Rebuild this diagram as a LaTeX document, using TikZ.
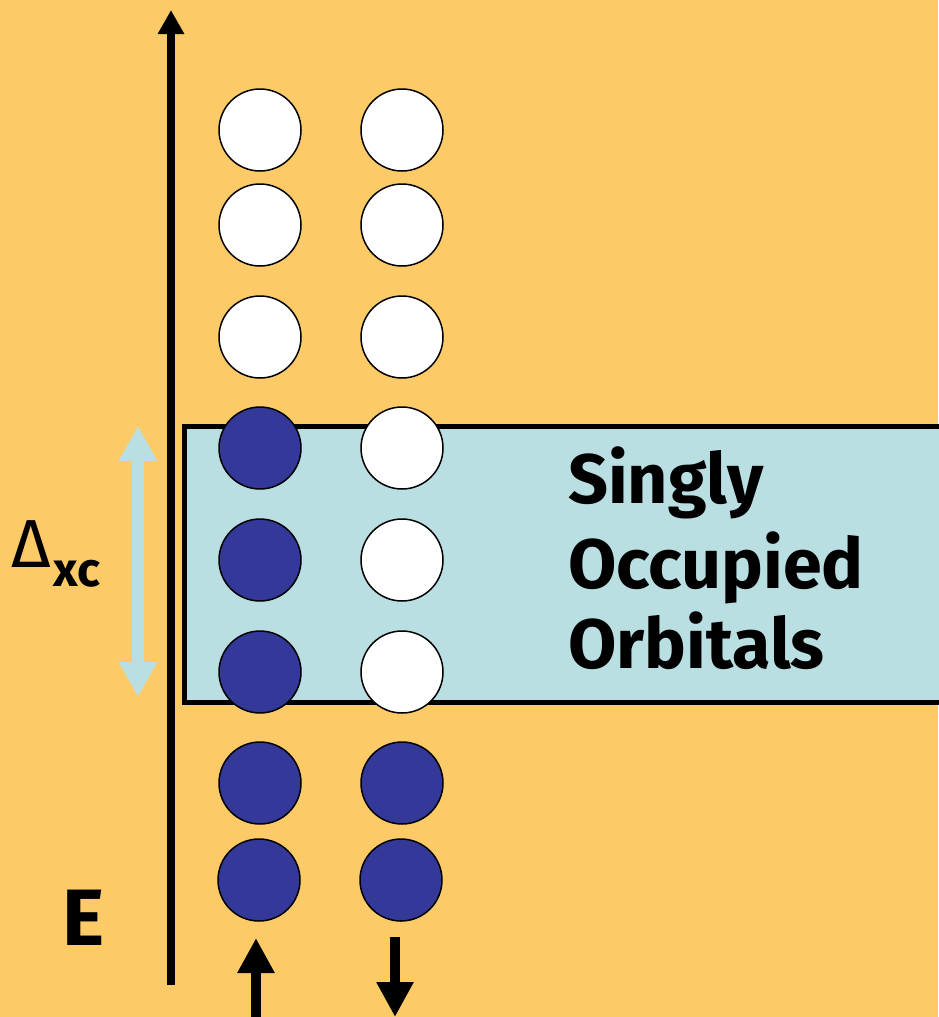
\documentclass[tikz,border=0pt]{standalone}
\usepackage{fontspec}
\setmainfont{Fira Sans}
\usetikzlibrary{arrows.meta}
\definecolor{bgorange}{RGB}{253,202,104}
\definecolor{bandblue}{RGB}{186,223,227}
\definecolor{elecblue}{RGB}{52,56,152}
\tikzset{
  orb/.style={circle, draw=black, line width=1.5pt, minimum size=82pt, inner sep=0pt},
  empty/.style={orb, fill=white},
  full/.style={orb, fill=elecblue},
  bigtxt/.style={font=\bfseries\fontsize{70}{70}\selectfont, inner sep=0pt, anchor=base west},
  spin/.style={line width=10pt, -{Triangle[width=35pt,length=35pt]}},
}
\begin{document}
\begin{tikzpicture}[x=1pt,y=-1pt]
  % canvas
  \fill[bgorange] (0,0) rectangle (938,1017);
  \useasboundingbox (0,0) rectangle (938,1017);

  % band of singly occupied orbitals
  \node[draw=black, fill=bandblue, line width=5pt, minimum width=790pt, minimum height=276pt,
        inner sep=0pt, outer sep=0pt, anchor=north west] (band) at (184.5,426.5) {};

  % energy axis
  \coordinate (axbot) at (171,985);
  \coordinate (axtop) at (171,10);
  \draw[line width=8pt, -{Triangle[width=25pt,length=24pt]}] (axbot) -- (axtop);
  \node[font=\bfseries\fontsize{80}{80}\selectfont, inner sep=0pt, anchor=base] (E) at (84,945) {E};

  % exchange-correlation splitting
  \coordinate (dtop) at (138,426);
  \coordinate (dbot) at (138,697);
  \draw[bandblue, line width=12pt, {Triangle[width=36pt,length=35pt]}-{Triangle[width=36pt,length=35pt]}] (dtop) -- (dbot);
  \node[inner sep=0pt, anchor=base west] (dxc) at (11,567)
    {\fontsize{68}{68}\selectfont Δ\kern3pt\raisebox{-19pt}{\bfseries\fontsize{48}{48}\selectfont xc}};

  % spin-up column
  \node[empty] (u1) at (260,130) {};
  \node[empty] (u2) at (260,225) {};
  \node[empty] (u3) at (260,337) {};
  \node[full]  (u4) at (260,448) {};
  \node[full]  (u5) at (260,560) {};
  \node[full]  (u6) at (260,672) {};
  \node[full]  (u7) at (260,783) {};
  \node[full]  (u8) at (259,880) {};

  % spin-down column
  \node[empty] (d1) at (402,130) {};
  \node[empty] (d2) at (402,225) {};
  \node[empty] (d3) at (402,337) {};
  \node[empty] (d4) at (402,448) {};
  \node[empty] (d5) at (402,560) {};
  \node[empty] (d6) at (402,672) {};
  \node[full]  (d7) at (402,783) {};
  \node[full]  (d8) at (401,880) {};

  % spin arrows
  \coordinate (upbot) at (256,1030);
  \coordinate (uptop) at (256,938);
  \draw[spin] (upbot) -- (uptop);
  \coordinate (dntop) at (395,937);
  \coordinate (dnbot) at (395,1017);
  \draw[spin] (dntop) -- (dnbot);

  % label
  \node[bigtxt] (s1) at (568,503) {Singly};
  \node[bigtxt] (s2) at (568,588) {Occupied};
  \node[bigtxt] (s3) at (568,668) {Orbitals};
\end{tikzpicture}
\end{document}
